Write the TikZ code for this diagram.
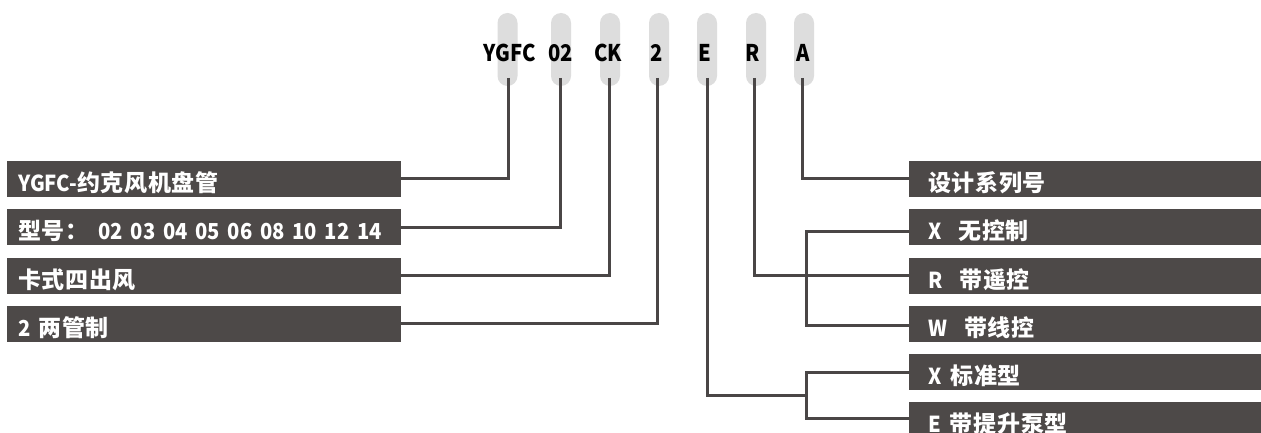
\documentclass[tikz,border=0pt]{standalone}
\usepackage{fontspec}
\setmainfont{Noto Sans CJK SC}
\newfontfamily\cjkfont{Noto Sans CJK SC}[LetterSpace=3]
\newfontfamily\latfont{Noto Sans CJK SC}[FakeStretch=0.92]
\newfontfamily\topfont{Noto Sans CJK SC}[FakeStretch=0.88]
\newcommand\La[1]{{\latfont\bfseries\fontsize{22}{22}\selectfont #1}}
\usetikzlibrary{calc}
\definecolor{boxc}{HTML}{4D4948}
\definecolor{linec}{HTML}{4A4646}
\definecolor{pillc}{HTML}{DDDDDD}
\begin{document}
\begin{tikzpicture}[x=1pt,y=-1pt,
  pill/.style={fill=pillc, draw=none, rounded corners=10pt, minimum width=20pt, minimum height=73pt, inner sep=0pt},
  code/.style={font=\topfont\bfseries\fontsize{23}{23}\selectfont, text=black, inner sep=0pt, anchor=base},
  lbox/.style={fill=boxc, text=white, font=\cjkfont\bfseries\fontsize{23}{23}\selectfont, minimum height=36pt, inner ysep=0pt, inner xsep=11pt, text width=372pt, align=left, text height=25pt, text depth=0pt, anchor=west},
  rbox/.style={lbox, inner xsep=19pt, text width=323pt},
  conn/.style={draw=linec, line width=3pt}
]
\clip (0,0) rectangle (1261,433);
\fill[white] (0,0) rectangle (1261,433);

% pills
\node[pill] (p1) at (507.5,49.5) {};
\node[pill] (p2) at (561,49.5) {};
\node[pill] (p3) at (610,49.5) {};
\node[pill] (p4) at (659,49.5) {};
\node[pill] (p5) at (707,49.5) {};
\node[pill] (p6) at (756,49.5) {};
\node[pill] (p7) at (804,49.5) {};

% code letters
\node[code] (t1) at (509.5,61.7) {YGFC};
\node[code] (t2) at (560.5,61.7) {02};
\node[code] (t3) at (608,61.7) {CK};
\node[code] (t4) at (657,61.7) {2};
\node[code] (t5) at (705,61.7) {E};
\node[code] (t6) at (753,61.7) {R};
\node[code] (t7) at (803,61.7) {A};

% line tops
\coordinate (c1) at (508.3,78);
\coordinate (c2) at (560.7,78);
\coordinate (c3) at (609.7,78);
\coordinate (c4) at (657.3,78);
\coordinate (c5) at (707,78);
\coordinate (c6) at (754,78);
\coordinate (c7) at (802.7,78);

% left boxes
\node[lbox] (l1) at (7,178.9) {\La{YGFC-}约克风机盘管};
\node[lbox] (l2) at (7,227.2) {型号：\hspace{10pt}\La{02 03 04 05 06 08 10 12 14}};
\node[lbox] (l3) at (7,275.5) {卡式四出风};
\node[lbox] (l4) at (7,323.8) {\La{2}\hspace{8pt}两管制};

% right boxes
\node[rbox] (r1) at (909,178.9) {设计系列号};
\node[rbox] (r2) at (909,227.2) {\La{X}\hspace{17pt}无控制};
\node[rbox] (r3) at (909,275.5) {\La{R}\hspace{17pt}带遥控};
\node[rbox] (r4) at (909,323.8) {\La{W}\hspace{17pt}带线控};
\node[rbox] (r5) at (909,372.1) {\La{X}\hspace{9pt}标准型};
\node[rbox] (r6) at (909,420.4) {\La{E}\hspace{9pt}带提升泵型};

% left connectors
\draw[conn] (c1) |- (l1.east);
\draw[conn] (c2) |- (l2.east);
\draw[conn] (c3) |- (l3.east);
\draw[conn] (c4) |- (l4.east);

% right connectors
\draw[conn] (c7) |- (r1.west);
\coordinate (k1) at (806.7,275.5);
\coordinate (k2) at (806.7,395);
\draw[conn] (c6) |- (r3.west);
\draw[conn] ($(r2.west)+(0,4.5)$) -| (k1) |- ($(r4.west)+(0,2)$);
\draw[conn] (c5) |- (k2);
\draw[conn] (r5.west) -| (k2) |- ($(r6.west)+(0,-1.5)$);
\end{tikzpicture}
\end{document}
